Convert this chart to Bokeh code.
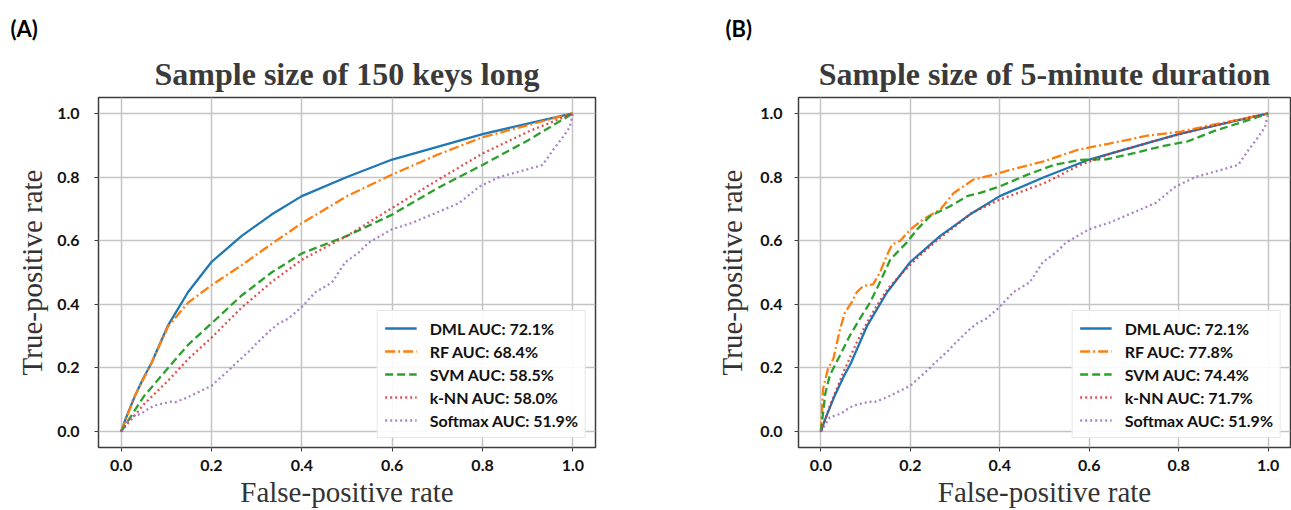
from bokeh.plotting import figure
from bokeh.layouts import row
from bokeh.models import Legend, LegendItem, Title, Range1d, FixedTicker, NumeralTickFormatter
from bokeh.embed import file_html
from bokeh.resources import INLINE

# ---------------- data ----------------
ticks = [0.0, 0.2, 0.4, 0.6, 0.8, 1.0]

# shared curves (identical AUC in both panels)
dml_x = [0, 0.01, 0.03, 0.05, 0.067, 0.104, 0.148, 0.2, 0.267, 0.333, 0.4, 0.5, 0.6, 0.7, 0.8, 0.9, 1.0]
dml_y = [0, 0.04, 0.11, 0.17, 0.215, 0.334, 0.438, 0.533, 0.615, 0.682, 0.74, 0.80, 0.855, 0.895, 0.935, 0.968, 1.0]

softmax_x = [0, 0.02, 0.044, 0.065, 0.081, 0.11, 0.119, 0.148, 0.2, 0.244, 0.252, 0.289, 0.296, 0.333, 0.349,
             0.37, 0.4, 0.43, 0.467, 0.496, 0.526, 0.548, 0.6, 0.644, 0.696, 0.748, 0.793, 0.837, 0.881, 0.933,
             0.956, 0.978, 0.993, 1.0]
softmax_y = [0, 0.045, 0.056, 0.076, 0.085, 0.094, 0.092, 0.108, 0.144, 0.2, 0.212, 0.26, 0.272, 0.322, 0.34,
             0.355, 0.392, 0.438, 0.469, 0.532, 0.563, 0.594, 0.636, 0.656, 0.687, 0.718, 0.77, 0.80, 0.817, 0.838,
             0.885, 0.926, 0.957, 1.0]

# panel A
rf_a_x = [0, 0.03, 0.067, 0.104, 0.148, 0.2, 0.267, 0.333, 0.4, 0.5, 0.6, 0.7, 0.8, 0.9, 1.0]
rf_a_y = [0, 0.11, 0.215, 0.33, 0.405, 0.46, 0.523, 0.59, 0.655, 0.74, 0.808, 0.87, 0.925, 0.963, 1.0]
svm_a_x = [0, 0.05, 0.104, 0.15, 0.2, 0.267, 0.333, 0.4, 0.5, 0.6, 0.7, 0.8, 0.9, 1.0]
svm_a_y = [0, 0.11, 0.2, 0.275, 0.34, 0.428, 0.50, 0.56, 0.615, 0.682, 0.765, 0.838, 0.915, 1.0]
knn_a_x = [0, 0.05, 0.104, 0.15, 0.2, 0.267, 0.333, 0.4, 0.5, 0.6, 0.7, 0.8, 0.9, 1.0]
knn_a_y = [0, 0.085, 0.16, 0.23, 0.295, 0.39, 0.47, 0.54, 0.615, 0.703, 0.79, 0.874, 0.942, 1.0]

# panel B
rf_b_x = [0, 0.005, 0.016, 0.028, 0.043, 0.054, 0.069, 0.08, 0.095, 0.117, 0.132, 0.147, 0.159, 0.177, 0.2,
          0.229, 0.267, 0.297, 0.341, 0.38, 0.424, 0.498, 0.573, 0.648, 0.73, 0.805, 0.872, 0.947, 1.0]
rf_b_y = [0, 0.135, 0.198, 0.229, 0.323, 0.375, 0.406, 0.4375, 0.458, 0.463, 0.5, 0.552, 0.588, 0.599, 0.635,
          0.667, 0.698, 0.75, 0.792, 0.805, 0.823, 0.849, 0.885, 0.906, 0.93, 0.943, 0.963, 0.984, 1.0]
svm_b_x = [0, 0.005, 0.01, 0.02, 0.043, 0.065, 0.087, 0.11, 0.132, 0.155, 0.17, 0.192, 0.215, 0.244, 0.289,
           0.327, 0.356, 0.401, 0.461, 0.521, 0.581, 0.64, 0.70, 0.76, 0.82, 0.88, 0.947, 1.0]
svm_b_y = [0, 0.06, 0.12, 0.177, 0.24, 0.302, 0.354, 0.406, 0.469, 0.54, 0.5625, 0.594, 0.635, 0.677, 0.708,
           0.74, 0.75, 0.771, 0.807, 0.838, 0.854, 0.856, 0.875, 0.896, 0.912, 0.945, 0.975, 1.0]
knn_b_x = [0, 0.02, 0.05, 0.08, 0.104, 0.125, 0.15, 0.2, 0.25, 0.3, 0.335, 0.4, 0.5, 0.575, 0.65, 0.75, 0.85, 0.93, 1.0]
knn_b_y = [0, 0.08, 0.185, 0.28, 0.345, 0.395, 0.45, 0.525, 0.59, 0.645, 0.685, 0.729, 0.781, 0.835, 0.875, 0.915, 0.952, 0.978, 1.0]

labels_a = ["DML AUC: 72.1%", "RF AUC: 68.4%", "SVM AUC: 58.5%", "k-NN AUC: 58.0%", "Softmax AUC: 51.9%"]
labels_b = ["DML AUC: 72.1%", "RF AUC: 77.8%", "SVM AUC: 74.4%", "k-NN AUC: 71.7%", "Softmax AUC: 51.9%"]

colors = ["#1f77b4", "#ff7f0e", "#2ca02c", "#d62728", "#9467bd"]
dashes = ["solid", "10 3 2 3", "8 4", "2 3", "2 3"]
alphas = [1.0, 1.0, 1.0, 0.8, 0.8]


def make_panel(width, b_left, b_right, title, tag, tag_offset, series, labels, tick_standoff, label_standoff):
    p = figure(width=width, height=510, x_range=Range1d(-0.05, 1.05), y_range=Range1d(-0.05, 1.05),
               output_backend="svg", toolbar_location=None,
               min_border_left=b_left, min_border_right=b_right, min_border_top=97, min_border_bottom=60)
    p.background_fill_color = "white"
    p.border_fill_color = "white"
    p.outline_line_color = "#3d3d3d"
    p.outline_line_width = 1.5

    # panel tag (outermost title)
    p.title.text = tag
    p.title.align = "left"
    p.title.offset = tag_offset
    p.title.text_font = "Lato"
    p.title.text_font_style = "bold"
    p.title.text_font_size = "22px"
    p.title.text_color = "#000000"
    p.title.standoff = 12

    # main title (closest to the frame)
    p.add_layout(Title(text=title, align="center", text_font="Liberation Serif",
                       text_font_style="bold", text_font_size="32px", text_color="#3a3a3a",
                       standoff=12), "above")

    for ax in (p.xaxis[0], p.yaxis[0]):
        ax.ticker = FixedTicker(ticks=ticks)
        ax.formatter = NumeralTickFormatter(format="0.0")
        ax.axis_line_color = None
        ax.major_tick_out = 4
        ax.major_tick_in = 0
        ax.major_tick_line_color = "#3d3d3d"
        ax.minor_tick_line_color = None
        ax.major_label_text_font = "Lato"
        ax.major_label_text_font_style = "bold"
        ax.major_label_text_font_size = "16px"
        ax.major_label_text_color = "#111111"
        ax.axis_label_text_font = "Liberation Serif"
        ax.axis_label_text_font_style = "normal"
        ax.axis_label_text_font_size = "29px"
        ax.axis_label_text_color = "#333333"
    p.xaxis.axis_label = "False-positive rate"
    p.yaxis.axis_label = "True-positive rate"
    p.xaxis.major_label_standoff = 8
    p.xaxis.axis_label_standoff = 2
    p.yaxis.major_label_standoff = tick_standoff
    p.yaxis.axis_label_standoff = label_standoff

    p.grid.ticker = FixedTicker(ticks=ticks)
    p.grid.grid_line_color = "#c4c4c4"
    p.grid.grid_line_width = 1.5

    items = []
    for (xs, ys), lab, c, d, a in zip(series, labels, colors, dashes, alphas):
        r = p.line(xs, ys, line_color=c, line_width=2.3, line_dash=d, line_alpha=a)
        items.append(LegendItem(label=lab, renderers=[r]))

    leg = Legend(items=items, location="bottom_right")
    leg.label_text_font = "Lato"
    leg.label_text_font_style = "bold"
    leg.label_text_font_size = "16px"
    leg.label_text_color = "#111111"
    leg.glyph_width = 32
    leg.glyph_height = 20
    leg.label_height = 20
    leg.label_standoff = 13
    leg.spacing = 3
    leg.padding = 7
    leg.margin = 9
    leg.border_line_color = "#cfcfcf"
    leg.border_line_width = 1.2
    leg.background_fill_alpha = 0.9
    p.add_layout(leg)
    return p


series_a = [(dml_x, dml_y), (rf_a_x, rf_a_y), (svm_a_x, svm_a_y), (knn_a_x, knn_a_y), (softmax_x, softmax_y)]
series_b = [(dml_x, dml_y), (rf_b_x, rf_b_y), (svm_b_x, svm_b_y), (knn_b_x, knn_b_y), (softmax_x, softmax_y)]

pa = make_panel(645, 98, 50, "Sample size of 150 keys long", "(A)", -88, series_a, labels_a, 15, 6)
pb = make_panel(646, 153, 1, "Sample size of 5-minute duration", "(B)", -73, series_b, labels_b, 12, 9)

layout = row(pa, pb, spacing=0)
open("out.html", "w").write(file_html(layout, INLINE))
